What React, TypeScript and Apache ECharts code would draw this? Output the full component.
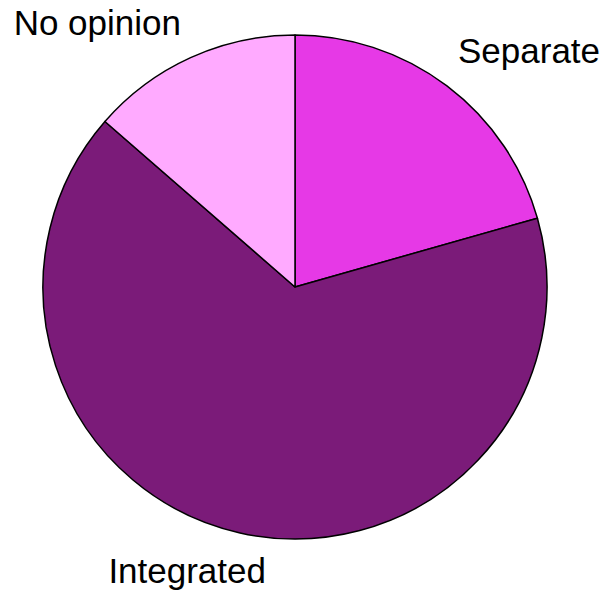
import React, { useEffect, useRef } from "react";
import * as echarts from "echarts";

const categories = ["Separate", "Integrated", "No opinion"];
const values = [20.6, 65.8, 13.6];
const colors = ["#e639e6", "#7b1b79", "#ffaaff"];

export default function App() {
  const ref = useRef<HTMLDivElement>(null);
  useEffect(() => {
    document.body.style.margin = "0";
    if (!ref.current) return;
    const chart = echarts.init(ref.current, null, { renderer: "svg" });
    const labelPos = [
      { x: 458, y: 50, align: "left" },
      { x: 266, y: 570, align: "right" },
      { x: 181, y: 22, align: "right" },
    ];
    chart.setOption({
      animation: false,
      backgroundColor: "#ffffff",
      series: [
        {
          type: "pie",
          center: [295, 287],
          radius: [0, 252],
          startAngle: 90,
          clockwise: true,
          silent: true,
          avoidLabelOverlap: false,
          data: categories.map((name, i) => ({
            name,
            value: values[i],
            itemStyle: { color: colors[i] },
          })),
          itemStyle: { borderColor: "#000000", borderWidth: 1.5 },
          label: {
            show: true,
            position: "outside",
            formatter: "{b}",
            color: "#000000",
            fontSize: 35,
            overflow: "none",
            width: 300,
            fontFamily: "Liberation Sans, Arial, sans-serif",
          },
          labelLine: { show: false },
          labelLayout: (params: any) => {
            const p = labelPos[params.dataIndex];
            return { x: p.x, y: p.y, align: p.align, verticalAlign: "middle" };
          },
        },
      ],
    });
    return () => chart.dispose();
  }, []);
  return <div ref={ref} style={{ width: 604, height: 591 }} />;
}
